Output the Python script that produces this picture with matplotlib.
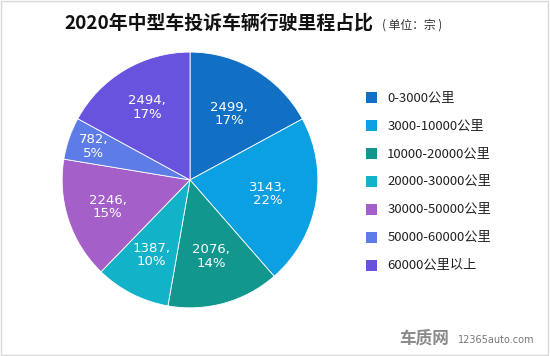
import matplotlib
matplotlib.use('Agg')
import matplotlib.pyplot as plt
from matplotlib.patches import Rectangle
import numpy as np

plt.rcParams['font.family'] = ['Noto Sans CJK SC', 'DejaVu Sans']

# data
categories = ['0-3000公里', '3000-10000公里', '10000-20000公里', '20000-30000公里',
              '30000-50000公里', '50000-60000公里', '60000公里以上']
counts = [2499, 3143, 2076, 1387, 2246, 782, 2494]
pct_labels = ['17%', '22%', '14%', '10%', '15%', '5%', '17%']
colors = ['#1170c4', '#0aa0e2', '#11978e', '#12b3c9', '#a45fc8', '#5d7ce8', '#6853df']

fig = plt.figure(figsize=(5.5, 3.56), dpi=100)
fig.patch.set_facecolor('white')
fig.patches.append(Rectangle((0.002, 0.003), 0.995, 0.993, transform=fig.transFigure,
                             fill=False, edgecolor='#d8d8d8', linewidth=1))

ax = fig.add_axes([0.113, 0.135, 0.465, 0.719])
wedges, texts = ax.pie(counts, colors=colors, startangle=90, counterclock=False,
                       wedgeprops=dict(linewidth=0.6, edgecolor='white'))
ax.set_xlim(-1.0, 1.0)
ax.set_ylim(-1.0, 1.0)
ax.set_aspect('equal')

# data labels inside slices
label_r = [0.6, 0.62, 0.62, 0.66, 0.68, 0.8, 0.66]
for w, n, p, r in zip(wedges, counts, pct_labels, label_r):
    ang = np.deg2rad((w.theta1 + w.theta2) / 2)
    ax.text(r * np.cos(ang), r * np.sin(ang), f'{n},\n{p}', ha='center', va='center',
            color='white', fontsize=9.5, linespacing=1.05, family=['DejaVu Sans'])

# title
fig.text(0.118, 0.935, '2020年中型车投诉车辆行驶里程占比', ha='left', va='center',
         fontsize=13.6, fontweight='bold', color='#111111')
fig.text(0.695, 0.93, '( 单位：宗 )', ha='left', va='center', fontsize=8.5, color='#333333')

# legend
y0, dy = 0.725, 0.0785
for i, (c, lab) in enumerate(zip(colors, categories)):
    y = y0 - i * dy
    fig.patches.append(Rectangle((0.666, y - 0.015), 0.02, 0.031, transform=fig.transFigure,
                                 facecolor=c, edgecolor='none'))
    fig.text(0.704, y, lab, ha='left', va='center', fontsize=9.5, color='#222222')

# watermark
fig.text(0.725, 0.05, '车质网', ha='left', va='center', fontsize=12, fontweight='bold',
         color='#8a8a8a', style='italic')
fig.text(0.833, 0.045, '12365auto.com', ha='left', va='center', fontsize=7,
         color='#777777', family=['DejaVu Sans'])

fig.savefig('out.png', dpi=100, facecolor='white')
